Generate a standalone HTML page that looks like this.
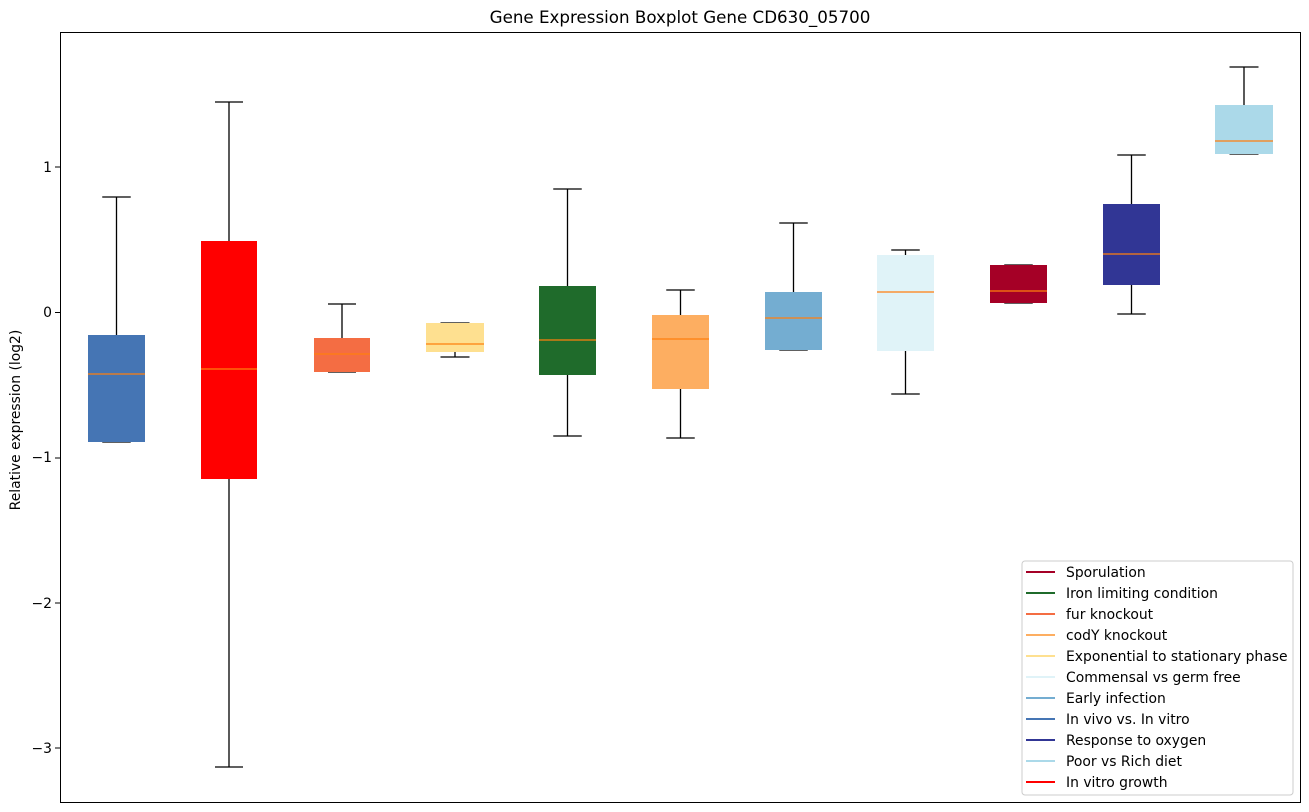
<!DOCTYPE html>
<html><head><meta charset="utf-8"><style>body{margin:0;background:#fff}svg{display:block}text{font-family:"DejaVu Sans","Liberation Sans",sans-serif}</style></head>
<body>
<svg width="1309" height="812" xmlns="http://www.w3.org/2000/svg">
<rect width="1309" height="812" fill="#fff"/>
<text x="680" y="23" font-size="16.7" text-anchor="middle" fill="#000">Gene Expression Boxplot Gene CD630_05700</text>
<g font-size="13.9" fill="#000" text-anchor="end">
<text x="52" y="172">1</text><text x="52" y="317">0</text><text x="52" y="462">−1</text><text x="52" y="608">−2</text><text x="52" y="753">−3</text>
</g>
<g stroke="#000" stroke-width="1">
<line x1="55" y1="167" x2="60" y2="167"/><line x1="55" y1="312.5" x2="60" y2="312.5"/><line x1="55" y1="458" x2="60" y2="458"/><line x1="55" y1="603" x2="60" y2="603"/><line x1="55" y1="748" x2="60" y2="748"/>
</g>
<text transform="translate(20,420) rotate(-90)" font-size="13.9" text-anchor="middle">Relative expression (log2)</text>
<g stroke="#000" stroke-width="1.3" fill="none">
<path d="M116.5 197V335M116.5 442V442M102.25 197H130.75M102.25 442H130.75"/>
<path d="M229 102V241M229 479V767M215 102H243M215 767H243"/>
<path d="M342 304V338M328 304H356M328 372H356"/>
<path d="M455 352V357M440.5 323H469.5M440.5 357H469.5"/>
<path d="M567.5 189V286M567.5 375V436M553.25 189H581.75M553.25 436H581.75"/>
<path d="M680.5 290V315M680.5 389V438M666.25 290H694.75M666.25 438H694.75"/>
<path d="M793.5 223V292M779.25 223H807.75M779.25 350H807.75"/>
<path d="M905.5 250V255M905.5 351V394M891.25 250H919.75M891.25 394H919.75"/>
<path d="M1004.25 265H1032.75M1004.25 303H1032.75"/>
<path d="M1131.5 155V204M1131.5 285V314M1117.25 155H1145.75M1117.25 314H1145.75"/>
<path d="M1244 67V105M1229.5 67H1258.5M1229.5 154H1258.5"/>
</g>
<g>
<rect x="88" y="335" width="57" height="107" fill="#4575b4"/>
<rect x="201" y="241" width="56" height="238" fill="#ff0000"/>
<rect x="314" y="338" width="56" height="34" fill="#f46d43"/>
<rect x="426" y="323" width="58" height="29" fill="#fee090"/>
<rect x="539" y="286" width="57" height="89" fill="#1f6b2b"/>
<rect x="652" y="315" width="57" height="74" fill="#fdae61"/>
<rect x="765" y="292" width="57" height="58" fill="#74add1"/>
<rect x="877" y="255" width="57" height="96" fill="#e0f3f8"/>
<rect x="990" y="265" width="57" height="38" fill="#a50026"/>
<rect x="1103" y="204" width="57" height="81" fill="#313695"/>
<rect x="1215" y="105" width="58" height="49" fill="#abd9e9"/>
</g>
<g stroke="#ff7f0e" stroke-width="1.3">
<path d="M88 374H145M201 369H257M314 354H370M426 344H484M539 340H596M652 339H709M765 318H822M877 292H934M990 291H1047M1103 254H1160M1215 141H1273"/>
</g>
<rect x="60.5" y="32.5" width="1240" height="770" fill="none" stroke="#000" stroke-width="1"/>
<rect x="1022" y="561" width="271" height="234" rx="3" fill="#fff" stroke="#ccc" stroke-width="1"/>
<g font-size="13.9" fill="#000" stroke-width="2">
<line x1="1026" y1="572" x2="1055" y2="572" stroke="#a50026"/><text x="1066" y="577">Sporulation</text>
<line x1="1026" y1="593" x2="1055" y2="593" stroke="#1f6b2b"/><text x="1066" y="598">Iron limiting condition</text>
<line x1="1026" y1="614" x2="1055" y2="614" stroke="#f46d43"/><text x="1066" y="619">fur knockout</text>
<line x1="1026" y1="635" x2="1055" y2="635" stroke="#fdae61"/><text x="1066" y="640">codY knockout</text>
<line x1="1026" y1="656" x2="1055" y2="656" stroke="#fee090"/><text x="1066" y="661">Exponential to stationary phase</text>
<line x1="1026" y1="677" x2="1055" y2="677" stroke="#e0f3f8"/><text x="1066" y="682">Commensal vs germ free</text>
<line x1="1026" y1="698" x2="1055" y2="698" stroke="#74add1"/><text x="1066" y="703">Early infection</text>
<line x1="1026" y1="719" x2="1055" y2="719" stroke="#4575b4"/><text x="1066" y="724">In vivo vs. In vitro</text>
<line x1="1026" y1="740" x2="1055" y2="740" stroke="#313695"/><text x="1066" y="745">Response to oxygen</text>
<line x1="1026" y1="761" x2="1055" y2="761" stroke="#abd9e9"/><text x="1066" y="766">Poor vs Rich diet</text>
<line x1="1026" y1="782" x2="1055" y2="782" stroke="#ff0000"/><text x="1066" y="787">In vitro growth</text>
</g>
</svg>
</body></html>
